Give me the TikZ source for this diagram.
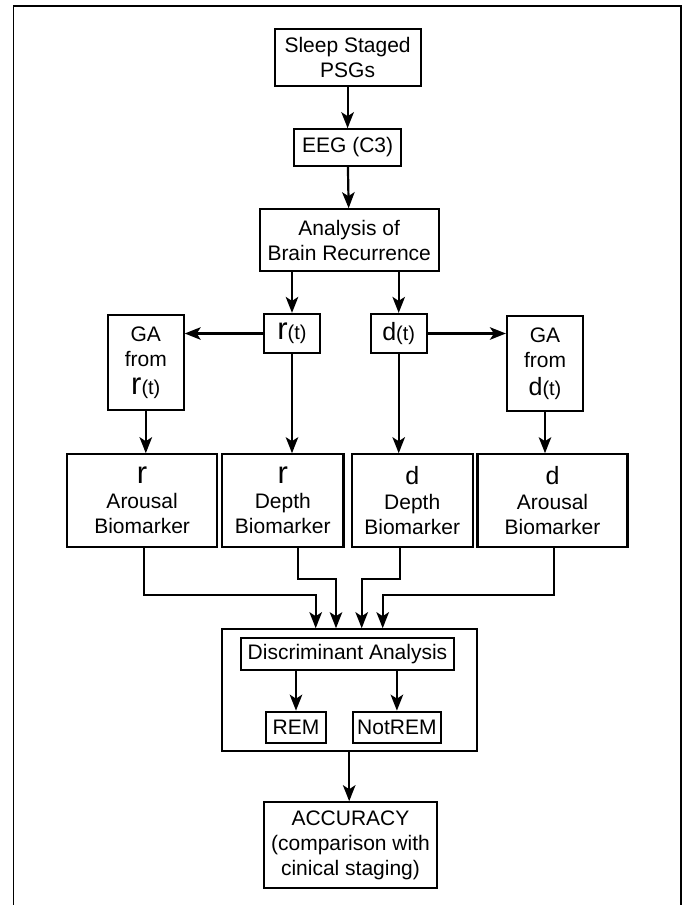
\documentclass[tikz,border=0pt]{standalone}
\usepackage{fontspec}
\setmainfont{Liberation Sans}
\usetikzlibrary{arrows.meta}

\newcommand{\recr}{{\fontsize{31}{25}\selectfont r}}
\newcommand{\depd}{{\fontsize{25}{25}\selectfont d}}
\newcommand{\tpar}{{\fontsize{20}{25}\selectfont (t)}}

\begin{document}
\begin{tikzpicture}[x=1pt, y=-1pt,
    box/.style={draw, line width=2.2pt, inner sep=0pt, align=center, font=\fontsize{21}{25}\selectfont},
    arr/.style={line width=2.2pt, -{Stealth[length=16pt, width=12.5pt, inset=4pt]}}]
    \useasboundingbox (0,0) rectangle (686,905);

    % Frame
    \draw[line width=1.5pt] (13.3,905) -- (13.3,6) -- (681,6) -- (681,905);

    % Draw nodes
    \node[box, minimum width=146pt, minimum height=56.7pt] (psg) at (347.6,57.7) {Sleep Staged\\PSGs};
    \node[box, minimum width=106.7pt, minimum height=36.4pt] (eeg) at (347.6,147.5) {EEG (C3)};
    \node[box, minimum width=179pt, minimum height=61.4pt] (ana) at (349.2,240) {Analysis of\\Brain Recurrence};

    \node[box, minimum width=56pt, minimum height=39pt] (rt) at (292,333.5) {\recr\tpar};
    \node[box, minimum width=56pt, minimum height=39pt] (dt) at (398.7,333.5) {\depd\tpar};
    \node[box, minimum width=75.6pt, minimum height=95pt] (gar) at (145.8,362.5) {GA\\from\\[3pt]\recr\tpar};
    \node[box, minimum width=76pt, minimum height=95pt] (gad) at (545,363.5) {GA\\from\\[3pt]\depd\tpar};

    \node[box, minimum width=150.4pt, minimum height=92.4pt] (rarou) at (142.1,500.5) {\recr\\Arousal\\Biomarker};
    \node[box, minimum width=121.5pt, minimum height=92.4pt] (rdep) at (282.8,500.5) {\recr\\Depth\\Biomarker};
    \node[box, minimum width=121pt, minimum height=92.4pt] (ddep) at (412.2,500.5) {\depd\\Depth\\Biomarker};
    \node[box, minimum width=150pt, minimum height=92.4pt] (darou) at (552.5,500.5) {\depd\\Arousal\\Biomarker};

    \node[box, minimum width=255pt, minimum height=122pt] (disc) at (349.2,690.3) {};
    \node[box, minimum width=213pt, minimum height=31.7pt] (da) at (347.5,654.2) {Discriminant Analysis};
    \node[box, minimum width=59.5pt, minimum height=31.3pt] (rem) at (296,727.4) {REM};
    \node[box, minimum width=88pt, minimum height=31.3pt] (notrem) at (396.9,727.4) {NotREM};

    \node[box, minimum width=173.6pt, minimum height=86pt] (acc) at (350.5,845.3) {ACCURACY\\(comparison with\\cinical staging)};

    % Draw connections
    \draw[arr] (psg) -- (eeg);
    \draw[arr] (eeg) -- (ana);
    \draw[arr] (ana.south -| rt.north) -- (rt.north);
    \draw[arr] (ana.south -| dt.north) -- (dt.north);
    \draw[arr] (rt.west) -- (rt.west -| gar.east);
    \draw[arr] (dt.east) -- (dt.east -| gad.west);
    \draw[arr] (gar.south) -- (gar.south |- rarou.north);
    \draw[arr] (gad.south) -- (gad.south |- darou.north);
    \draw[arr] (rt.south) -- (rt.south |- rdep.north);
    \draw[arr] (dt.south) -- (dt.south |- ddep.north);

    \draw[arr] ([xshift=2.2pt]rarou.south) -- ++(0,47.3) -| ([xshift=-33.5pt]disc.north);
    \draw[arr] ([xshift=15.5pt]rdep.south) -- ++(0,31) -| ([xshift=-13.2pt]disc.north);
    \draw[arr] ([xshift=-12.2pt]ddep.south) -- ++(0,31) -| ([xshift=12.5pt]disc.north);
    \draw[arr] ([xshift=1.5pt]darou.south) -- ++(0,47.3) -| ([xshift=33.5pt]disc.north);

    \draw[arr] (da.south -| rem.north) -- (rem.north);
    \draw[arr] (da.south -| notrem.north) -- (notrem.north);
    \draw[arr] (disc.south) -- (disc.south |- acc.north);
\end{tikzpicture}
\end{document}
